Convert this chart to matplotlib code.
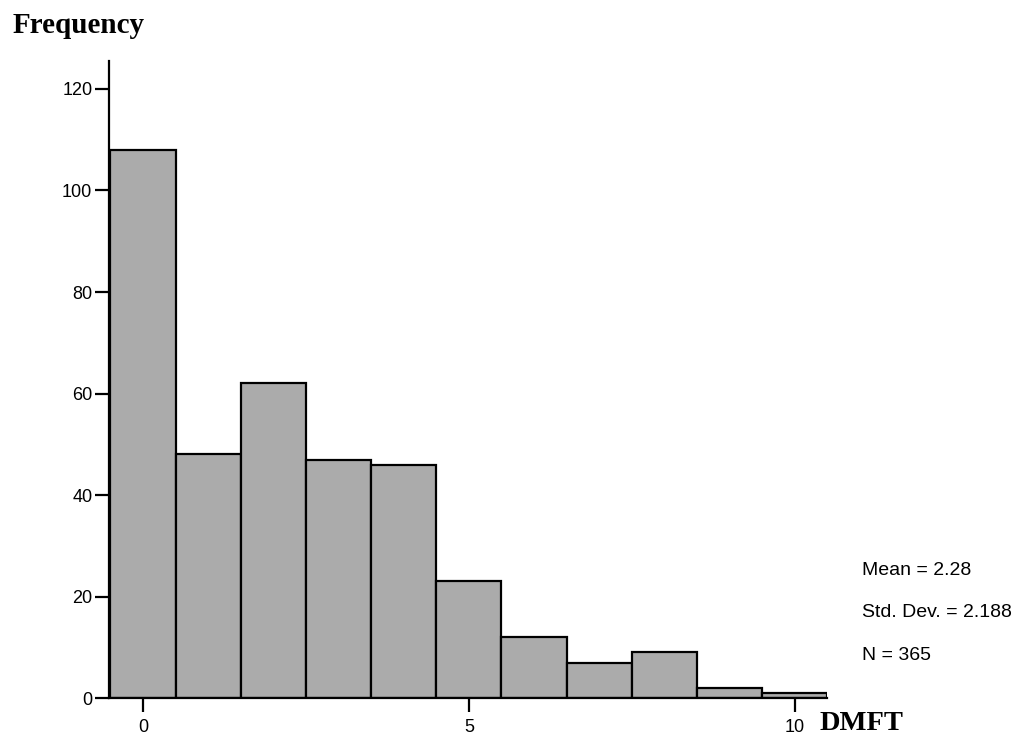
import matplotlib

matplotlib.use("Agg")
import matplotlib.pyplot as plt

# DMFT histogram (one bar per score, width 1)
dmft = [0, 1, 2, 3, 4, 5, 6, 7, 8, 9, 10]
freq = [108, 48, 62, 47, 46, 23, 12, 7, 9, 2, 1]
xticks = [0, 5, 10]
yticks = [0, 20, 40, 60, 80, 100, 120]
stats = ["Mean = 2.28", "Std. Dev. = 2.188", "N = 365"]

fig = plt.figure(figsize=(10.19, 7.38), dpi=100)
ax = fig.add_axes([0.107, 0.054, 0.705, 0.864])

ax.bar(dmft, freq, width=1.0, color="#ababab", edgecolor="black", linewidth=1.6)

ax.set_xlim(-0.52, 10.5)
ax.set_ylim(0, 125.6)
ax.set_xticks(xticks)
ax.set_yticks(yticks)
ax.spines["top"].set_visible(False)
ax.spines["right"].set_visible(False)
ax.spines["left"].set_linewidth(1.6)
ax.spines["bottom"].set_linewidth(1.6)
ax.tick_params(axis="both", direction="out", length=10, width=1.6, labelsize=13)
ax.tick_params(axis="y", pad=2)
ax.tick_params(axis="x", pad=5)
for lab in ax.get_xticklabels() + ax.get_yticklabels():
    lab.set_family("Liberation Sans")

fig.text(0.012, 0.966, "Frequency", family="Liberation Serif", fontweight="bold",
         fontsize=21, va="center", ha="left")
fig.text(0.804, 0.019, "DMFT", family="Liberation Serif", fontweight="bold",
         fontsize=20.5, va="center", ha="left")

for i, s in enumerate(stats):
    fig.text(0.846, 0.2276 - i * 0.0576, s, family="Liberation Sans",
             fontsize=14, va="center", ha="left")

fig.savefig("out.png", dpi=100)
plt.close(fig)
